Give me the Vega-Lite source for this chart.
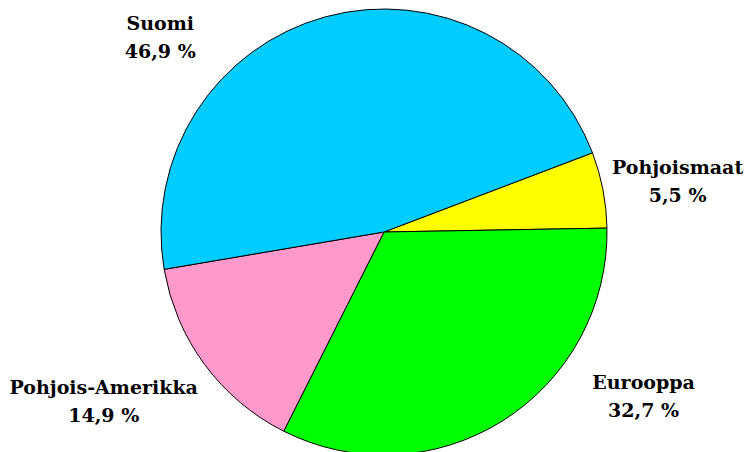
{
  "$schema": "https://vega.github.io/schema/vega-lite/v6.json",
  "width": 738,
  "height": 440,
  "autosize": "none",
  "padding": {"left": 15, "top": 12, "right": 0, "bottom": 0},
  "background": "white",
  "view": {"stroke": null},
  "data": {
    "values": [
      {"name": "Pohjoismaat", "value": 5.5, "label": "Pohjoismaat\n5,5 %", "ord": 1},
      {"name": "Eurooppa", "value": 32.7, "label": "Eurooppa\n32,7 %", "ord": 2},
      {"name": "Pohjois-Amerikka", "value": 14.9, "label": "Pohjois-Amerikka\n14,9 %", "ord": 3},
      {"name": "Suomi", "value": 46.9, "label": "Suomi\n46,9 %", "ord": 4}
    ]
  },
  "encoding": {
    "theta": {"field": "value", "type": "quantitative", "stack": true, "scale": {"domain": [0, 100], "range": [1.2078, 7.4910]}},
    "order": {"field": "ord", "type": "quantitative"}
  },
  "layer": [
    {
      "mark": {"type": "arc", "radius": 223, "stroke": "black", "strokeWidth": 1},
      "encoding": {
        "color": {
          "field": "name", "type": "nominal", "legend": null,
          "scale": {"domain": ["Pohjoismaat", "Eurooppa", "Pohjois-Amerikka", "Suomi"], "range": ["#FFFF00", "#00FF00", "#FF99CC", "#00CCFF"]}
        }
      }
    },
    {
      "mark": {"type": "text", "radius": 300, "dx": -1, "dy": -7, "font": "DejaVu Serif", "fontWeight": "bold", "fontSize": 19, "lineHeight": 28, "lineBreak": "\n", "align": "center", "baseline": "middle", "color": "black"},
      "encoding": {"text": {"condition": {"test": "datum.name === 'Pohjoismaat'", "field": "label"}, "value": ""}}
    },
    {
      "mark": {"type": "text", "radius": 300, "dx": 100, "dy": -103, "font": "DejaVu Serif", "fontWeight": "bold", "fontSize": 19, "lineHeight": 28, "lineBreak": "\n", "align": "center", "baseline": "middle", "color": "black"},
      "encoding": {"text": {"condition": {"test": "datum.name === 'Eurooppa'", "field": "label"}, "value": ""}}
    },
    {
      "mark": {"type": "text", "radius": 300, "dx": -39, "dy": -22, "font": "DejaVu Serif", "fontWeight": "bold", "fontSize": 19, "lineHeight": 28, "lineBreak": "\n", "align": "center", "baseline": "middle", "color": "black"},
      "encoding": {"text": {"condition": {"test": "datum.name === 'Pohjois-Amerikka'", "field": "label"}, "value": ""}}
    },
    {
      "mark": {"type": "text", "radius": 300, "dx": -145, "dy": 81, "font": "DejaVu Serif", "fontWeight": "bold", "fontSize": 19, "lineHeight": 28, "lineBreak": "\n", "align": "center", "baseline": "middle", "color": "black"},
      "encoding": {"text": {"condition": {"test": "datum.name === 'Suomi'", "field": "label"}, "value": ""}}
    }
  ]
}
